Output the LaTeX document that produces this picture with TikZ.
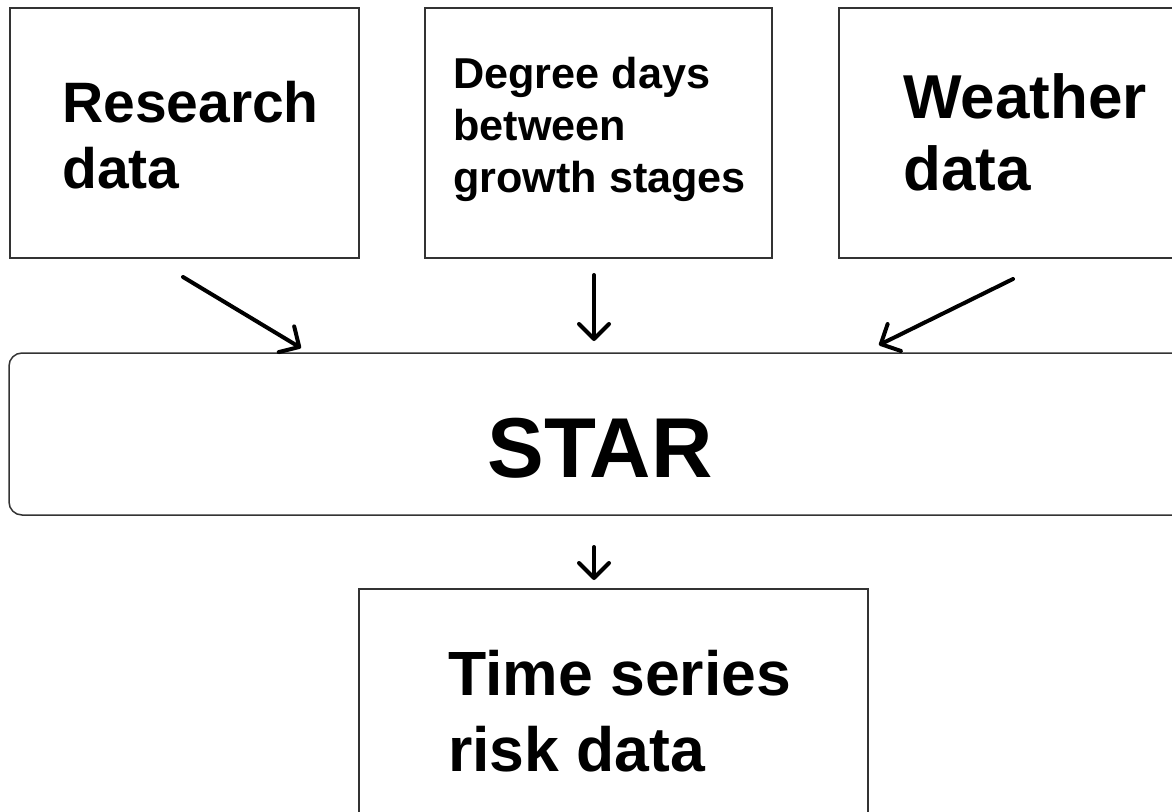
\documentclass[tikz,border=0pt]{standalone}
\usepackage{fontspec}
\setmainfont{Liberation Sans}
\usetikzlibrary{arrows.meta}
\tikzset{
  box/.style={draw=black!80, line width=1.5pt, fill=white, inner sep=0pt},
  lbl/.style={inner sep=0pt, anchor=base west, align=left, font=\bfseries},
  flow/.style={line width=4pt, line cap=round, -{Straight Barb[length=15pt,width=30pt,line width=4pt,round]}},
}
\begin{document}
\begin{tikzpicture}[x=1pt,y=-1pt]
\useasboundingbox (0,0) rectangle (1172,811);
\clip (0,0) rectangle (1172,811);
\fill[white] (0,0) rectangle (1172,811);
% boxes
\node[box, minimum width=349pt, minimum height=250pt] (research) at (184.5,133) {};
\node[box, minimum width=347pt, minimum height=250pt] (degree) at (598.5,133) {};
\node[box, minimum width=351pt, minimum height=250pt] (weather) at (1014.5,133) {};
\node[box, rounded corners=13pt, minimum width=1181pt, minimum height=162pt] (star) at (599.5,434) {};
\node[box, minimum width=509pt, minimum height=241pt] (risk) at (613.5,709.5) {};
% texts (anchor base = baseline of last line)
\node[lbl, font=\bfseries\fontsize{57}{66}\selectfont] (researchtxt) at (62,188) {Research\\data};
\node[lbl, font=\bfseries\fontsize{43.2}{52}\selectfont] (degreetxt) at (453,192) {Degree days\\between\\growth stages};
\node[lbl, font=\bfseries\fontsize{62}{72}\selectfont] (weathertxt) at (903,190) {Weather\\data};
\node[inner sep=0pt, anchor=base, font=\bfseries\fontsize{85}{90}\selectfont] (startxt) at (600,477) {STAR};
\node[lbl, font=\bfseries\fontsize{62.5}{76}\selectfont] (risktxt) at (448,771) {Time series\\risk data};
% connectors
\coordinate (a1) at (183,277);
\coordinate (a2) at (594,275);
\coordinate (a3) at (1013,279);
\coordinate (a4) at (594,547);
\draw[flow] (a1) -- (301,348);
\draw[flow] (a2) -- (594,341);
\draw[flow] (a3) -- (879,345);
\draw[flow] (a4) -- (594,580);
\end{tikzpicture}
\end{document}
